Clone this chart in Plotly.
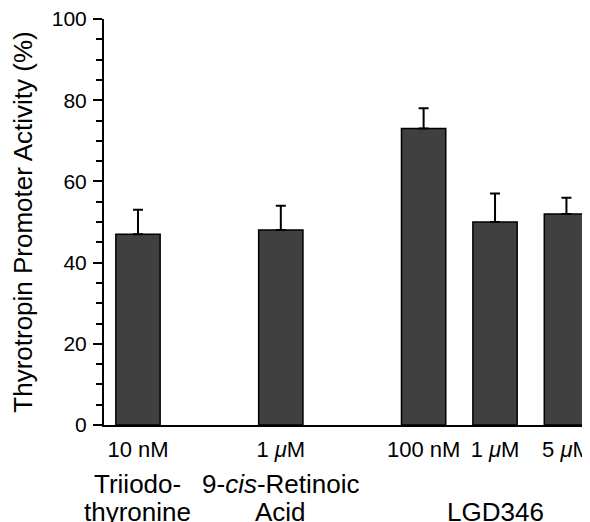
import plotly.graph_objects as go

positions = [0, 2, 4, 5, 6]
dose_labels = ["10 nM", "1 <i>μ</i>M", "100 nM", "1 <i>μ</i>M", "5 <i>μ</i>M"]
values = [47, 48, 73, 50, 52]
errors = [6, 6, 5, 7, 4]
group_line1 = ["Triiodo-", "9-<i>cis</i>-Retinoic", ""]
group_line2 = ["thyronine", "Acid", "LGD346"]
group_positions = [0, 2, 5]

FONT = "Liberation Sans, Arial, Helvetica, sans-serif"

fig = go.Figure()
fig.add_trace(go.Bar(
    x=positions, y=values, width=0.62,
    marker=dict(color="#404040", line=dict(color="black", width=1.5)),
    error_y=dict(type="data", symmetric=False, array=errors,
                 arrayminus=[0] * len(errors), color="black",
                 thickness=2, width=5),
))

for gx, l1, l2 in zip(group_positions, group_line1, group_line2):
    for txt, shift in ((l1, -59), (l2, -87)):
        if not txt:
            continue
        fig.add_annotation(
            x=gx, y=0, xref="x", yref="paper", text=txt, showarrow=False,
            yanchor="middle", xanchor="center", yshift=shift,
            font=dict(family=FONT, size=26, color="black"),
        )

# page body has an 8px margin, so the figure is 8px smaller than the window
fig.update_layout(
    width=582, height=514,
    margin=dict(l=96, r=0, t=11, b=97),
    paper_bgcolor="white", plot_bgcolor="white",
    showlegend=False,
    font=dict(family=FONT, size=20, color="black"),
    xaxis=dict(
        range=[-0.476, 6.33], showline=True, linewidth=2, linecolor="black",
        tickvals=positions, ticktext=dose_labels, ticks="",
        showgrid=False, zeroline=False, tickfont=dict(size=22),
        ticklabelstandoff=4, ticklabeloverflow="allow",
    ),
    yaxis=dict(
        range=[0, 100], showline=True, linewidth=2, linecolor="black",
        tickvals=[0, 20, 40, 60, 80, 100], ticks="outside", ticklen=9,
        tickwidth=2, tickcolor="black",
        minor=dict(dtick=5, ticks="outside", ticklen=6, tickwidth=1.5,
                   tickcolor="black", showgrid=False),
        showgrid=False, zeroline=False, tickfont=dict(size=21),
        ticklabelstandoff=2, ticklabeloverflow="allow",
        title=dict(text="Thyrotropin Promoter Activity (%)",
                   font=dict(size=26), standoff=14),
    ),
)

fig.write_html("out.html")
